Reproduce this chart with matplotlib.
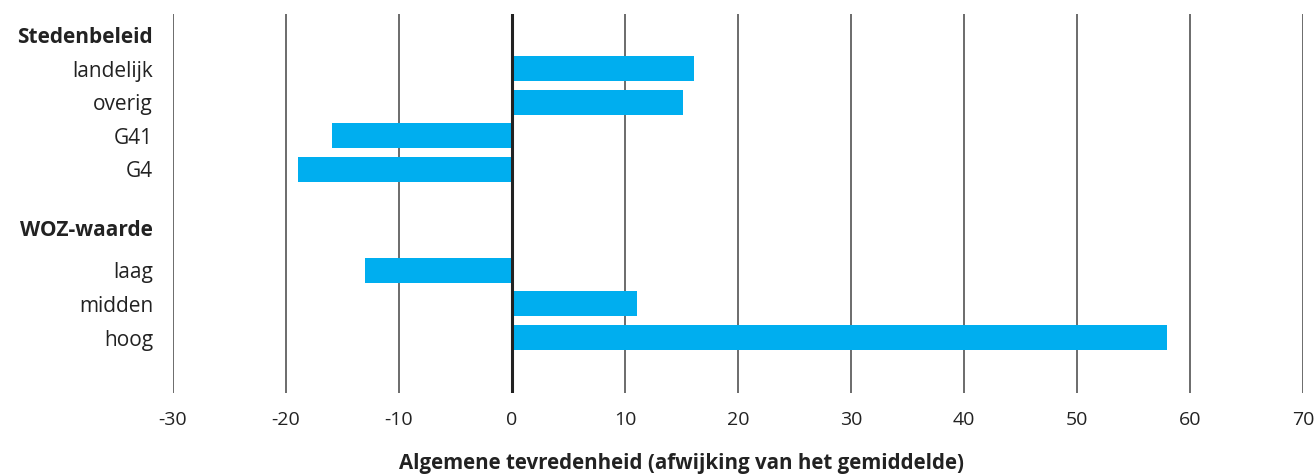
import numpy as np
import matplotlib.pyplot as plt

plt.rcParams['font.family'] = ['Open Sans', 'DejaVu Sans']

# rijen: kopjes en categorieen
labels = ["Stedenbeleid", "landelijk", "overig", "G41", "G4",
          "WOZ-waarde", "laag", "midden", "hoog"]
is_kop = [True, False, False, False, False, True, False, False, False]
ypos = [0, 1, 2, 3, 4, 5.75, 7, 8, 9]

# afwijking van het gemiddelde per categorie
bar_labels = ["landelijk", "overig", "G41", "G4", "laag", "midden", "hoog"]
bar_y = [1, 2, 3, 4, 7, 8, 9]
waarden = [16.1, 15.1, -15.9, -18.9, -13.0, 11.1, 57.9]

xticks = np.arange(-30, 71, 10)

fig = plt.figure(figsize=(13.16, 4.75), dpi=100)
ax = fig.add_axes([0.1311, 0.1726, 0.8594, 0.7979])

ax.barh(bar_y, waarden, height=0.74, color="#00AEEF", zorder=2)
ax.axvline(0, color="#222222", lw=2.2, zorder=3)

ax.set_xlim(-30, 70)
ax.set_ylim(10.65, -0.625)
ax.set_xticks(xticks)
ax.set_xticklabels([str(t) for t in xticks], fontsize=14, color="#222222")
ax.grid(axis="x", color="#444444", lw=1.1, zorder=1)
ax.set_yticks(ypos)
ax.set_yticklabels(labels, fontsize=15, color="#222222")
for t, kop in zip(ax.get_yticklabels(), is_kop):
    if kop:
        t.set_fontweight("bold")
ax.tick_params(axis="y", length=0, pad=14)
ax.tick_params(axis="x", length=0, pad=13)
for s in ax.spines.values():
    s.set_visible(False)

fig.text(0.5175, 1 - 463 / 475, "Algemene tevredenheid (afwijking van het gemiddelde)",
         ha="center", va="center", fontsize=14.8, fontweight="bold", color="#222222")

fig.savefig("out.png", dpi=100)
